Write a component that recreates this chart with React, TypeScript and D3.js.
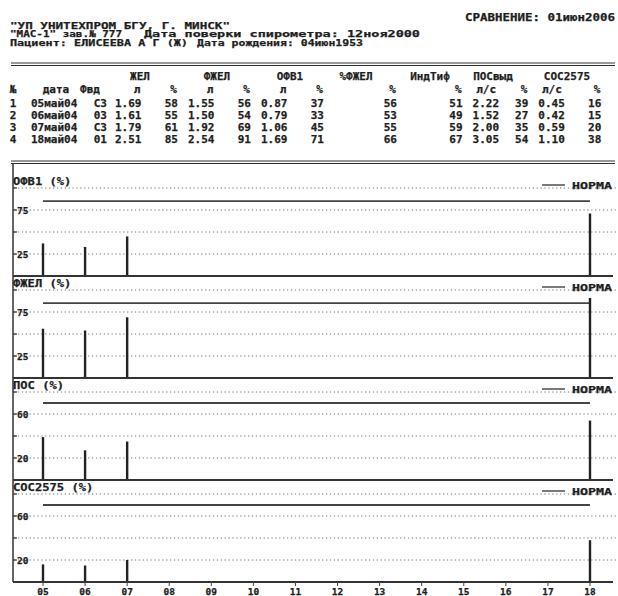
import React from "react";
import * as d3 from "d3";

// header of the printout
const orgLine = "\"УП УНИТЕХПРОМ БГУ, Г. МИНСК\"";
const deviceLine = "\"МАС-1\" зав.№ 777";
const checkLine = "Дата поверки спирометра: 12ноя2000";
const patientLine = "Пациент: ЕЛИСЕЕВА А Г (Ж)";
const birthLine = "Дата рождения: 04июн1953";
const compareLine = "СРАВНЕНИЕ: 01июн2006";

// table rows
const rowNums = ["1", "2", "3", "4"];
const dates = ["05май04", "06май04", "07май04", "18май04"];
const fvd = ["С3", "03", "С3", "01"];
const zhelL = [1.69, 1.61, 1.79, 2.51];
const zhelPct = [58, 55, 61, 85];
const fzhelL = [1.55, 1.5, 1.92, 2.54];
const fzhelPct = [56, 54, 69, 91];
const ofv1L = [0.87, 0.79, 1.06, 1.69];
const ofv1Pct = [37, 33, 45, 71];
const pctFzhel = [56, 53, 55, 66];
const indTif = [51, 49, 59, 67];
const posL = [2.22, 1.52, 2.0, 3.05];
const posPct = [39, 27, 35, 54];
const sosL = [0.45, 0.42, 0.59, 1.1];
const sosPct = [16, 15, 20, 38];

// chart panels
const days = [5, 6, 7, 18];
const dayTicks = [5, 6, 7, 8, 9, 10, 11, 12, 13, 14, 15, 16, 17, 18];
const panelTitles = ["ОФВ1 (%)", "ФЖЕЛ (%)", "ПОС (%)", "СОС2575 (%)"];
const panelValues = [ofv1Pct, fzhelPct, posPct, sosPct];
const panelMax = [100, 100, 80, 80];
const panelGrid = [
  [25, 50, 75, 100],
  [25, 50, 75, 100],
  [20, 40, 60, 80],
  [20, 40, 60, 80],
];
const panelLabels = [
  [25, 75],
  [25, 75],
  [20, 60],
  [20, 60],
];
const normValues = [85, 85, 70, 70];
const normLabel = "НОРМА";

const FONT = "'DejaVu Sans Mono', monospace";
const INK = "#1e1e1e";
const W = 618;
const H = 596;

// monospace print grid
const col = (k: number) => 10 + k * 7.3;

const f2 = d3.format(".2f");

export default function App() {
  const x = d3.scaleLinear().domain([5, 18]).range([43, 590]);
  const bases = [276, 378, 480, 582];
  const plotH = 88;

  // table columns: unit label and values, right aligned on char index
  const columns = [
    { unit: "л", vals: zhelL.map(f2), end: 18 },
    { unit: "%", vals: zhelPct.map(String), end: 23 },
    { unit: "л", vals: fzhelL.map(f2), end: 28 },
    { unit: "%", vals: fzhelPct.map(String), end: 33 },
    { unit: "л", vals: ofv1L.map(f2), end: 38 },
    { unit: "%", vals: ofv1Pct.map(String), end: 43 },
    { unit: "%", vals: pctFzhel.map(String), end: 53 },
    { unit: "%", vals: indTif.map(String), end: 62 },
    { unit: "л/с", vals: posL.map(f2), end: 67 },
    { unit: "%", vals: posPct.map(String), end: 71 },
    { unit: "л/с", vals: sosL.map(f2), end: 76 },
    { unit: "%", vals: sosPct.map(String), end: 81 },
  ];
  const heads = [
    { t: "ЖЕЛ", c: 140 },
    { t: "ФЖЕЛ", c: 217 },
    { t: "ОФВ1", c: 290 },
    { t: "%ФЖЕЛ", c: 356 },
    { t: "ИндТиф", c: 430 },
    { t: "ПОСвыд", c: 493 },
    { t: "СОС2575", c: 567 },
  ];
  const rowY = [103, 115, 127, 139];

  const txt = {
    fontFamily: FONT,
    fontWeight: 700,
    fill: INK,
    stroke: INK,
    strokeWidth: 0.25,
  } as const;

  return (
    <svg
      width={W}
      height={H}
      style={{ position: "absolute", left: 0, top: 0, background: "#fff" }}
    >
      <rect width={W} height={H} fill="#fff" />
      <g {...txt} dominantBaseline="central">
        <text x={465} y={17} fontSize={10} textLength={150} lengthAdjust="spacingAndGlyphs">{compareLine}</text>
        <text x={10} y={25} fontSize={9.5} textLength={220} lengthAdjust="spacingAndGlyphs">{orgLine}</text>
        <text x={10} y={34} fontSize={9} textLength={112} lengthAdjust="spacingAndGlyphs">{deviceLine}</text>
        <text x={144} y={34} fontSize={9} textLength={276} lengthAdjust="spacingAndGlyphs">{checkLine}</text>
        <text x={10} y={43} fontSize={9} textLength={178} lengthAdjust="spacingAndGlyphs">{patientLine}</text>
        <text x={197} y={43} fontSize={9} textLength={166} lengthAdjust="spacingAndGlyphs">{birthLine}</text>
      </g>

      {/* table rules */}
      <g stroke="#333" strokeWidth={1}>
        <line x1={11} x2={615} y1={63} y2={63} />
        <line x1={11} x2={615} y1={65.5} y2={65.5} />
        <line x1={11} x2={615} y1={161} y2={161} />
        <line x1={11} x2={615} y1={163.5} y2={163.5} />
      </g>

      <g {...txt} fontSize={11} dominantBaseline="central">
        {heads.map((h) => (
          <text key={h.t} x={h.c} y={76} textAnchor="middle">{h.t}</text>
        ))}
        <text x={13} y={89} textAnchor="middle">№</text>
        <text x={56} y={89} textAnchor="middle">дата</text>
        <text x={90} y={89} textAnchor="middle">Фвд</text>
        {columns.map((c, i) => (
          <text key={"u" + i} x={col(c.end) - (c.unit.length > 1 ? 3 : 1)} y={89} textAnchor="end">
            {c.unit}
          </text>
        ))}
        {rowNums.map((n, r) => (
          <g key={"r" + r}>
            <text x={13} y={rowY[r]} textAnchor="middle">{n}</text>
            <text x={31} y={rowY[r]}>{dates[r]}</text>
            <text x={107} y={rowY[r]} textAnchor="end">{fvd[r]}</text>
            {columns.map((c, i) => (
              <text key={i} x={col(c.end)} y={rowY[r]} textAnchor="end">
                {c.vals[r]}
              </text>
            ))}
          </g>
        ))}
      </g>

      {/* left axis */}
      <line x1={13} x2={13} y1={164} y2={582} stroke="#333" strokeWidth={1.5} />

      {panelTitles.map((title, p) => {
        const base = bases[p];
        const y = d3.scaleLinear().domain([0, panelMax[p]]).range([base, base - plotH]);
        const top = y(panelMax[p]);
        const vals = panelValues[p];
        return (
          <g key={title}>
            {panelGrid[p].map((g) => (
              <g key={g}>
                <line
                  x1={14}
                  x2={616}
                  y1={y(g)}
                  y2={y(g)}
                  stroke="#777"
                  strokeWidth={1}
                  strokeDasharray="1.3 2.6"
                />
                <line x1={13} x2={17} y1={y(g)} y2={y(g)} stroke="#333" strokeWidth={1.2} />
              </g>
            ))}
            {panelLabels[p].map((g) => (
              <text
                key={"l" + g}
                {...txt}
                x={17}
                y={y(g)}
                fontSize={9.5}
                dominantBaseline="central"
              >
                {g}
              </text>
            ))}
            <text
              {...txt}
              x={13}
              y={top - 7}
              fontSize={10.5}
              dominantBaseline="central"
              textLength={title.length * 7.3}
              lengthAdjust="spacingAndGlyphs"
            >
              {title}
            </text>
            {/* legend */}
            <line x1={542} x2={565} y1={top - 3} y2={top - 3} stroke="#333" strokeWidth={1.3} />
            <text
              {...txt}
              x={572}
              y={top - 3}
              fontSize={9.5}
              dominantBaseline="central"
              textLength={40}
              lengthAdjust="spacingAndGlyphs"
            >
              {normLabel}
            </text>
            {/* norm line */}
            <line
              x1={x(days[0])}
              x2={x(days[days.length - 1])}
              y1={y(normValues[p])}
              y2={y(normValues[p])}
              stroke="#444"
              strokeWidth={1.8}
            />
            {/* bars */}
            {vals.map((v, i) => (
              <line
                key={i}
                x1={x(days[i])}
                x2={x(days[i])}
                y1={y(0)}
                y2={y(v)}
                stroke="#222"
                strokeWidth={2.4}
              />
            ))}
            {/* panel baseline */}
            <line x1={13} x2={613} y1={base} y2={base} stroke="#333" strokeWidth={1.8} />
          </g>
        );
      })}

      {/* x axis */}
      {dayTicks.map((d) => (
        <g key={d}>
          <line x1={x(d)} x2={x(d)} y1={582} y2={586} stroke="#444" strokeWidth={1} />
          <text
            {...txt}
            x={x(d)}
            y={591}
            fontSize={9.5}
            textAnchor="middle"
            dominantBaseline="central"
          >
            {d3.format("02d")(d)}
          </text>
        </g>
      ))}
    </svg>
  );
}
